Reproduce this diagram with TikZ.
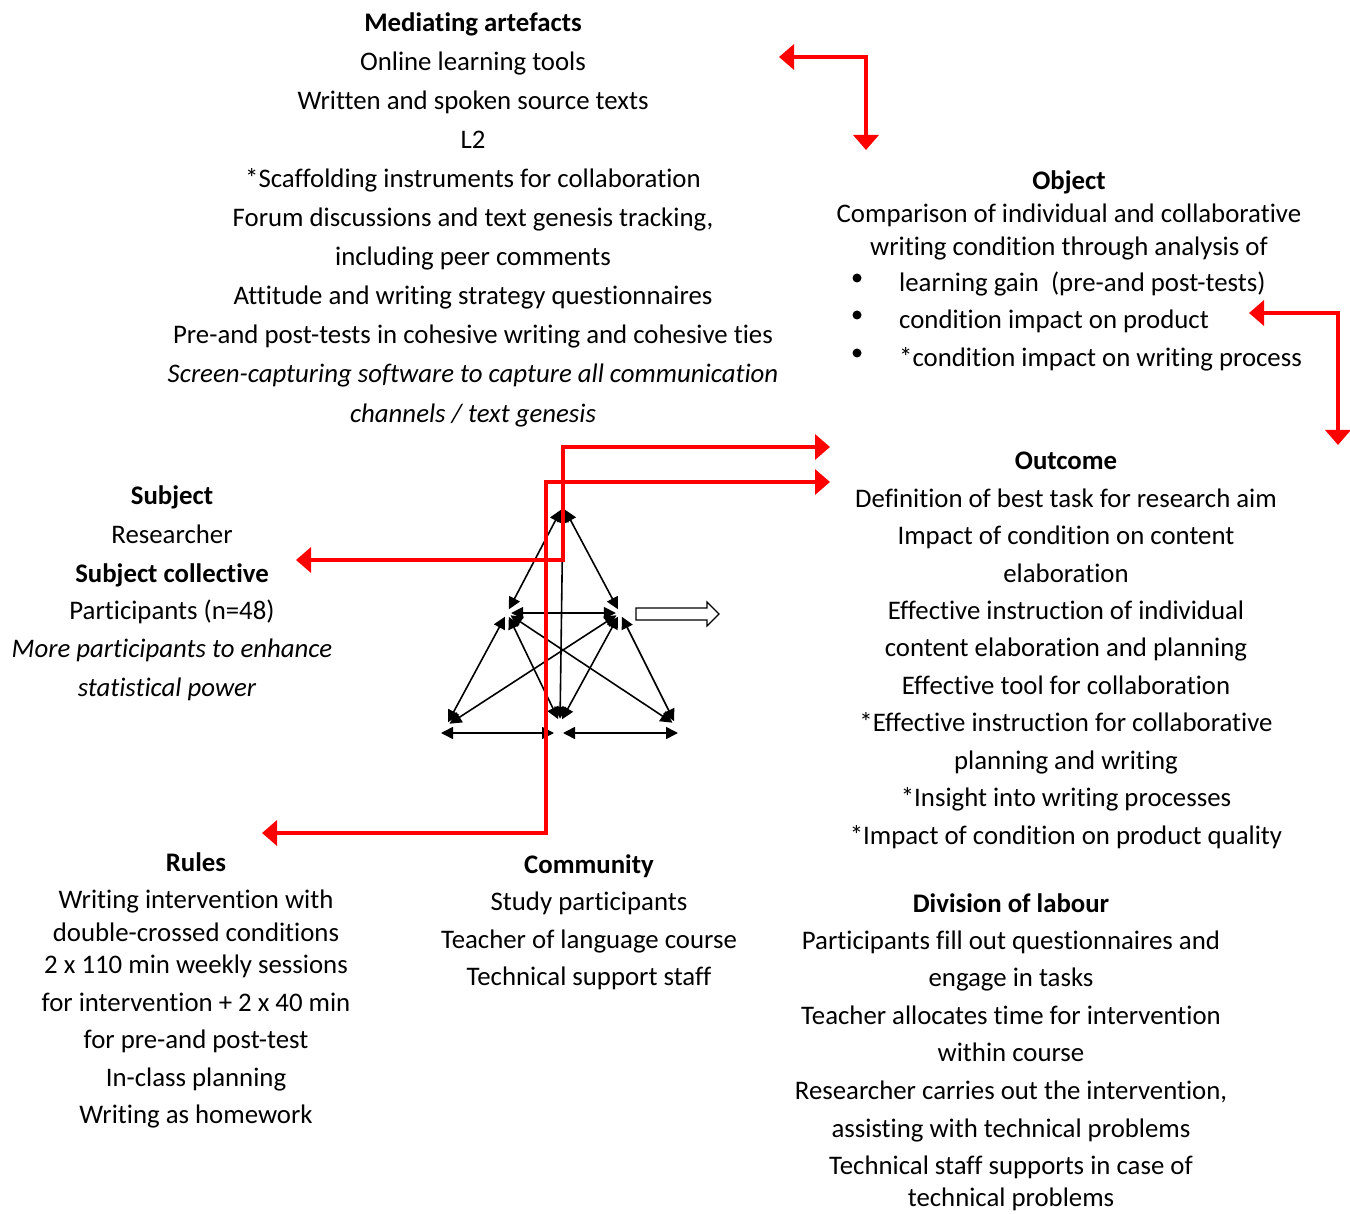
\documentclass[tikz,border=0pt]{standalone}
\usepackage{fontspec}
\setmainfont{Carlito}[Ligatures=NoCommon]
\usetikzlibrary{arrows.meta}
\begin{document}
\begin{tikzpicture}[x=1pt,y=-1pt,
  txt/.style={anchor=base,inner sep=0pt,yshift=-2.5pt,font=\fontsize{26.8}{32}\selectfont},
  hd/.style={txt,font=\fontsize{26.8}{32}\selectfont\bfseries},
  it/.style={txt,font=\fontsize{26.8}{32}\selectfont\itshape},
  lft/.style={txt,anchor=base west},
  dot/.style={circle,fill=black,inner sep=0pt,minimum size=9pt},
  vtx/.style={circle,inner sep=0pt,minimum size=8pt},
  link/.style={line width=1.6pt,{Triangle[length=12pt,width=12pt]}-{Triangle[length=12pt,width=12pt]}},
  redlink/.style={draw=red,line width=3.5pt,{Triangle[length=15pt,width=25pt]}-{Triangle[length=15pt,width=25pt]}}]
\useasboundingbox (0,0) rectangle (1350,1214);

% ---------- Mediating artefacts ----------
\node[hd] (med0) at (473,29)  {Mediating artefacts};
\node[txt] (med1) at (473,68)  {Online learning tools};
\node[txt] (med2) at (473,107) {Written and spoken source texts};
\node[txt] (med3) at (473,146) {L2};
\node[txt] (med4) at (473,185) {*Scaffolding instruments for collaboration};
\node[txt] (med5) at (473,224) {Forum discussions and text genesis tracking,};
\node[txt] (med6) at (473,263) {including peer comments};
\node[txt] (med7) at (473,302) {Attitude and writing strategy questionnaires};
\node[txt] (med8) at (473,341) {Pre-and post-tests in cohesive writing and cohesive ties};
\node[it]  (med9) at (473,380) {Screen-capturing software to capture all communication};
\node[it]  (med10) at (473,420) {channels / text genesis};

% ---------- Object ----------
\node[hd]  (obj0) at (1069,187) {Object};
\node[txt] (obj1) at (1069,220) {Comparison of individual and collaborative};
\node[txt] (obj2) at (1069,253) {writing condition through analysis of};
\node[dot] (bul1) at (857,278) {};
\node[dot] (bul2) at (857,315) {};
\node[dot] (bul3) at (857,353) {};
\node[lft] (obj3) at (899,289) {learning gain\ \ (pre-and post-tests)};
\node[lft] (obj4) at (899,326) {condition impact on product};
\node[lft] (obj5) at (899,364) {*condition impact on writing process};

% ---------- Outcome ----------
\node[hd]  (out0) at (1066,467) {Outcome};
\node[txt] (out1) at (1066,505) {Definition of best task for research aim};
\node[txt] (out2) at (1066,542) {Impact of condition on content};
\node[txt] (out3) at (1066,580) {elaboration};
\node[txt] (out4) at (1066,617) {Effective instruction of individual};
\node[txt] (out5) at (1066,654) {content elaboration and planning};
\node[txt] (out6) at (1066,692) {Effective tool for collaboration};
\node[txt] (out7) at (1066,729) {*Effective instruction for collaborative};
\node[txt] (out8) at (1066,767) {planning and writing};
\node[txt] (out9) at (1066,804) {*Insight into writing processes};
\node[txt] (out10) at (1066,842) {*Impact of condition on product quality};

% ---------- Subject ----------
\node[hd]  (sub0) at (172,502) {Subject};
\node[txt] (sub1) at (172,541) {Researcher};
\node[hd]  (sub2) at (172,580) {Subject collective};
\node[txt] (sub3) at (172,617) {Participants (n=48)};
\node[it]  (sub4) at (172,655) {More participants to enhance};
\node[it]  (sub5) at (167,694) {statistical power};

% ---------- Rules ----------
\node[hd]  (rul0) at (196,869)  {Rules};
\node[txt] (rul1) at (196,906)  {Writing intervention with};
\node[txt] (rul2) at (196,939)  {double-crossed conditions};
\node[txt] (rul3) at (196,971)  {2 x 110 min weekly sessions};
\node[txt] (rul4) at (196,1009) {for intervention + 2 x 40 min};
\node[txt] (rul5) at (196,1046) {for pre-and post-test};
\node[txt] (rul6) at (196,1084) {In-class planning};
\node[txt] (rul7) at (196,1121) {Writing as homework};

% ---------- Community ----------
\node[hd]  (com0) at (589,871) {Community};
\node[txt] (com1) at (589,908) {Study participants};
\node[txt] (com2) at (589,946) {Teacher of language course};
\node[txt] (com3) at (589,983) {Technical support staff};

% ---------- Division of labour ----------
\node[hd]  (div0) at (1011,910)  {Division of labour};
\node[txt] (div1) at (1011,947)  {Participants fill out questionnaires and};
\node[txt] (div2) at (1011,984)  {engage in tasks};
\node[txt] (div3) at (1011,1022) {Teacher allocates time for intervention};
\node[txt] (div4) at (1011,1059) {within course};
\node[txt] (div5) at (1011,1097) {Researcher carries out the intervention,};
\node[txt] (div6) at (1011,1135) {assisting with technical problems};
\node[txt] (div7) at (1011,1172) {Technical staff supports in case of};
\node[txt] (div8) at (1011,1204) {technical problems};

% ---------- activity triangle ----------
\node[vtx] (T)  at (563,506) {};
\node[vtx] (ML) at (507,613) {};
\node[vtx] (MR) at (620,613) {};
\node[vtx] (BL) at (446,726) {};
\node[vtx] (BM) at (560,723) {};
\node[vtx] (BR) at (676,725) {};
\coordinate (hb1) at (441,733);
\coordinate (hb2) at (554,733);
\coordinate (hb3) at (563,733);
\coordinate (hb4) at (678,733);

\draw[link] (T) -- (ML);
\draw[link] (T) -- (MR);
\draw[link] (T) -- (BM);
\draw[link] (ML) -- (MR);
\draw[link] (ML) -- (BL);
\draw[link] (ML) -- (BM);
\draw[link] (ML) -- (BR);
\draw[link] (MR) -- (BL);
\draw[link] (MR) -- (BM);
\draw[link] (MR) -- (BR);
\draw[link] (hb1) -- (hb2);
\draw[link] (hb3) -- (hb4);

% hollow arrow towards the outcome
\draw[line width=1.2pt,fill=white,line join=miter]
  (636,608) -- (707,608) -- (707,602) -- (719,614) -- (707,626) -- (707,620) -- (636,620) -- cycle;

% ---------- red connectors ----------
\coordinate (ra1) at (779,57);
\coordinate (ra2) at (866,57);
\coordinate (ra3) at (866,150);
\draw[redlink] (ra1) -- (ra2) -- (ra3);

\coordinate (rb1) at (1249,313);
\coordinate (rb2) at (1338,313);
\coordinate (rb3) at (1338,445);
\draw[redlink] (rb1) -- (rb2) -- (rb3);

\coordinate (rc1) at (296,560);
\coordinate (rc2) at (563,560);
\coordinate (rc3) at (563,447);
\coordinate (rc4) at (830,447);
\draw[redlink] (rc1) -- (rc2) -- (rc3) -- (rc4);

\coordinate (rd1) at (262,833);
\coordinate (rd2) at (546,833);
\coordinate (rd3) at (546,482);
\coordinate (rd4) at (830,482);
\draw[redlink] (rd1) -- (rd2) -- (rd3) -- (rd4);
\end{tikzpicture}
\end{document}
